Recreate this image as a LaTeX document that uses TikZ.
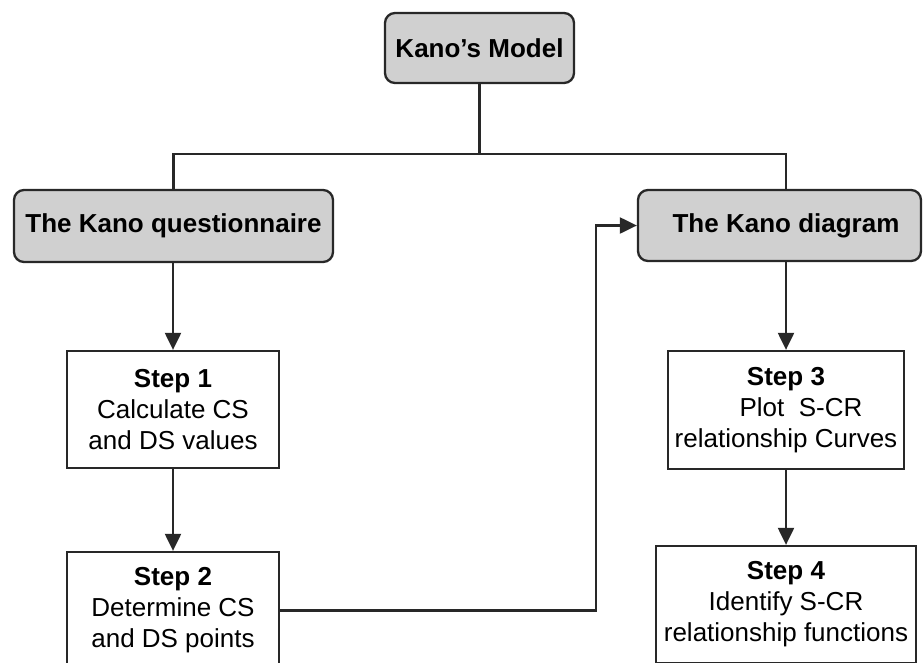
\documentclass[tikz,border=0pt]{standalone}
\usepackage{fontspec}
\setmainfont{Liberation Sans}
\usetikzlibrary{arrows.meta}
\definecolor{boxgray}{RGB}{208,208,208}
\definecolor{edgegray}{RGB}{40,40,40}
\begin{document}
\begin{tikzpicture}[x=1pt,y=-1pt,
  every node/.style={font=\fontsize{26}{31}\selectfont, align=center, inner sep=0pt},
  headbox/.style={draw=edgegray, line width=2.3pt, fill=boxgray, rounded corners=10pt,
                  font=\fontsize{26}{31}\selectfont\bfseries},
  stepbox/.style={draw=edgegray, line width=2.3pt, fill=white},
  link/.style={draw=edgegray, line width=2.2pt},
  arr/.style={link, -{Triangle[length=17pt,width=16pt]}}]
\useasboundingbox (0,0) rectangle (924,662);
\clip (0,0) rectangle (924,662);

% header boxes
\node[headbox, minimum width=189pt, minimum height=70pt] (model) at (479.5,48) {Kano’s Model};
\node[headbox, minimum width=319pt, minimum height=72pt] (quest) at (173.5,226) {The Kano questionnaire};
\node[headbox, minimum width=283pt, minimum height=71pt] (diagram) at (779.5,225.5) {\hspace*{13pt}The Kano diagram};

% step boxes
\node[stepbox, minimum width=212pt, minimum height=117pt] (step1) at (173,409.5)
  {\textbf{Step 1}\\Calculate CS\\and DS values};
\node[stepbox, minimum width=212pt, minimum height=117pt] (step2) at (173,610.5)
  {\textbf{Step 2}\\Determine CS\\and DS points};
\node[stepbox, minimum width=236pt, minimum height=118pt] (step3) at (786,410)
  {\textbf{Step 3}\\\hspace*{30pt}Plot\ \ S-CR\\relationship Curves};
\node[stepbox, minimum width=260pt, minimum height=117pt] (step4) at (786,604.5)
  {\textbf{Step 4}\\Identify S-CR\\relationship functions};

% tree from the model to both branches
\coordinate (bus) at (479.5,154);
\draw[link] (model.south) -- (bus);
\draw[link] (quest.north) |- (bus) -| (step3.north |- diagram.north);

% left branch
\draw[arr] (quest.south -| step1.north) -- (step1.north);
\draw[arr] (step1.south) -- (step2.north);

% step 2 feeds the Kano diagram
\coordinate (turn) at (596,0);
\draw[arr] (step2.east) -- (step2.east -| turn) |- (diagram.west);

% right branch
\draw[arr] (step3.north |- diagram.south) -- (step3.north);
\draw[arr] (step3.south) -- (step4.north);
\end{tikzpicture}
\end{document}
